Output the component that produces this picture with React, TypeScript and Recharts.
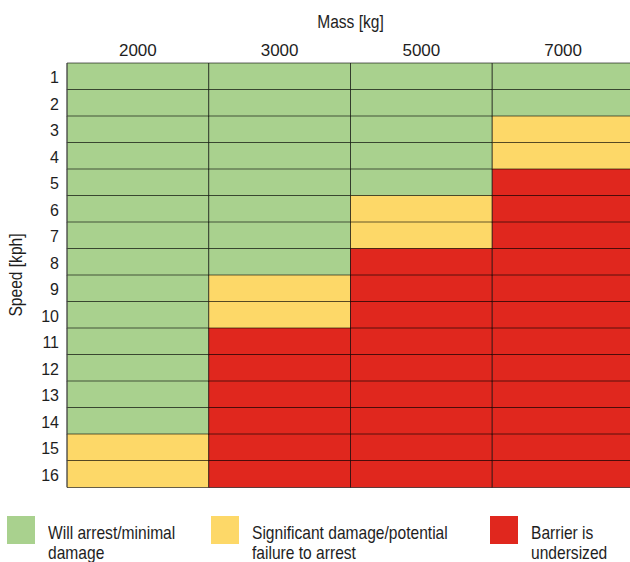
import React from "react";
import { BarChart, Bar, XAxis, YAxis, Cell, Legend } from "recharts";

const masses = ["2000", "3000", "5000", "7000"];
const speeds = ["1", "2", "3", "4", "5", "6", "7", "8", "9", "10", "11", "12", "13", "14", "15", "16"];

// outcome per speed row (1 kph first) for each mass column
// g = will arrest, y = significant damage, r = undersized
const outcome2000 = ["g", "g", "g", "g", "g", "g", "g", "g", "g", "g", "g", "g", "g", "g", "y", "y"];
const outcome3000 = ["g", "g", "g", "g", "g", "g", "g", "g", "y", "y", "r", "r", "r", "r", "r", "r"];
const outcome5000 = ["g", "g", "g", "g", "g", "y", "y", "r", "r", "r", "r", "r", "r", "r", "r", "r"];
const outcome7000 = ["g", "g", "y", "y", "r", "r", "r", "r", "r", "r", "r", "r", "r", "r", "r", "r"];

const legendKeys = ["g", "y", "r"];
const legendLines = [
  ["Will arrest/minimal", "damage"],
  ["Significant damage/potential", "failure to arrest"],
  ["Barrier is", "undersized"],
];

const COLORS: Record<string, string> = {
  g: "#a9d18e",
  y: "#fdd868",
  r: "#e0271e",
};

// no narrow font installed, so squeeze Liberation Sans horizontally for the words
const FONT = "'Liberation Sans', Arial, sans-serif";
const FS = 19;
const SQUEEZE = 0.82;
const TEXT = "#1e1e1e";

const columns = [outcome2000, outcome3000, outcome5000, outcome7000];
const data = speeds.map((speed) => {
  const row: Record<string, string | number> = { speed };
  masses.forEach((_, i) => {
    row[`m${i}`] = 1;
  });
  return row;
});

const narrow = (x: number) => `matrix(${SQUEEZE} 0 0 1 ${x * (1 - SQUEEZE)} 0)`;

const MassTick = ({ x, y, payload }: any) => (
  <text x={x} y={y} textAnchor="middle" fontSize={17} fontFamily={FONT} fill={TEXT}>
    {masses[Math.floor(payload.value)]}
  </text>
);

const SpeedTick = ({ x, y, payload }: any) => (
  <text x={x} y={y} dy={7} textAnchor="end" fontSize={16} fontFamily={FONT} fill={TEXT}>
    {payload.value}
  </text>
);

const legendLeft = [7, 211, 490];

const HeatLegend = () => (
  <div style={{ position: "relative", height: 46, fontFamily: FONT, fontSize: FS, color: TEXT }}>
    {legendKeys.map((k, i) => (
      <div key={k} style={{ position: "absolute", left: legendLeft[i], top: 0 }}>
        <div style={{ position: "absolute", left: 0, top: 0, width: 28, height: 28, background: COLORS[k] }} />
        <div
          style={{
            position: "absolute",
            left: 41,
            top: 7,
            lineHeight: "20px",
            whiteSpace: "nowrap",
            transform: `scaleX(${SQUEEZE})`,
            transformOrigin: "left top",
          }}
        >
          {legendLines[i].map((line) => (
            <div key={line}>{line}</div>
          ))}
        </div>
      </div>
    ))}
  </div>
);

export default function App() {
  return (
    <div style={{ position: "absolute", left: 0, top: 0, width: 630, height: 562, overflow: "hidden", background: "#fff" }}>
      <BarChart
        width={640}
        height={562}
        data={data}
        layout="vertical"
        barCategoryGap={0}
        barGap={0}
        margin={{ top: 0, right: 6, bottom: 75, left: 0 }}
      >
        <XAxis
          type="number"
          orientation="top"
          domain={[0, masses.length]}
          ticks={masses.map((_, i) => i + 0.5)}
          interval={0}
          height={63}
          axisLine={false}
          tickLine={false}
          tickSize={0}
          tickMargin={7}
          tick={<MassTick />}
          label={{
            content: ({ viewBox }: any) => {
              const cx = viewBox.x + viewBox.width / 2;
              return (
                <text x={cx} y={28} textAnchor="middle" transform={narrow(cx)} fontSize={FS} fontFamily={FONT} fill={TEXT}>
                  Mass [kg]
                </text>
              );
            },
          }}
        />
        <YAxis
          type="category"
          dataKey="speed"
          width={67}
          interval={0}
          tickLine={false}
          tickSize={0}
          tickMargin={8}
          axisLine={{ stroke: "#555" }}
          tick={<SpeedTick />}
          label={{
            content: ({ viewBox }: any) => {
              const cx = viewBox.x + 15;
              const cy = viewBox.y + viewBox.height / 2;
              return (
                <text
                  x={cx}
                  y={cy}
                  transform={`rotate(-90 ${cx} ${cy}) matrix(${SQUEEZE} 0 0 1 ${cx * (1 - SQUEEZE)} 0)`}
                  textAnchor="middle"
                  dominantBaseline="central"
                  fontSize={FS}
                  fill={TEXT}
                  fontFamily={FONT}
                >
                  Speed [kph]
                </text>
              );
            },
          }}
        />
        <Legend
          layout="vertical"
          align="center"
          verticalAlign="middle"
          wrapperStyle={{ left: 0, top: 516, width: 630 }}
          content={() => <HeatLegend />}
        />
        {masses.map((m, ci) => (
          <Bar
            key={m}
            dataKey={`m${ci}`}
            stackId="grid"
            isAnimationActive={false}
            stroke="#000"
            strokeOpacity={0.6}
            strokeWidth={1}
          >
            {columns[ci].map((s, ri) => (
              <Cell key={ri} fill={COLORS[s]} />
            ))}
          </Bar>
        ))}
      </BarChart>
    </div>
  );
}
